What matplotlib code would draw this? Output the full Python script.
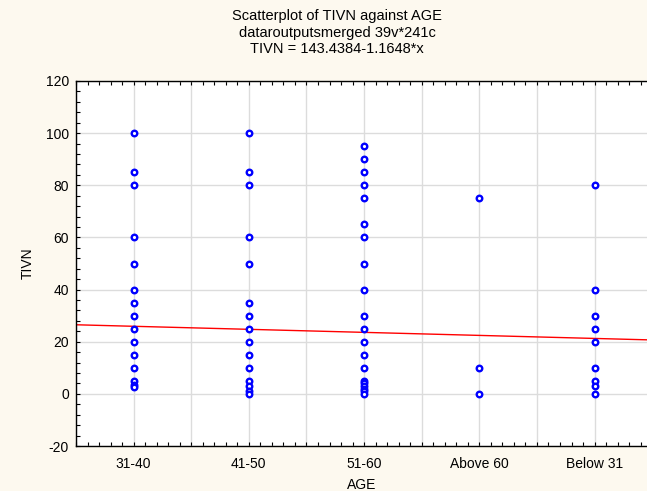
import matplotlib
matplotlib.use("Agg")
import matplotlib.pyplot as plt
from matplotlib.ticker import MultipleLocator
import numpy as np

plt.rcParams["font.family"] = ["Liberation Sans", "DejaVu Sans"]
plt.rcParams["axes.unicode_minus"] = False

categories = ["31-40", "41-50", "51-60", "Above 60", "Below 31"]

tivn_31_40 = [100, 85, 80, 60, 50, 40, 35, 30, 25, 20, 15, 10, 5, 3.5, 2.5]
tivn_41_50 = [100, 85, 80, 60, 50, 35, 30, 25, 20, 15, 10, 5, 3, 1, 0]
tivn_51_60 = [95, 90, 85, 80, 75, 65, 60, 50, 40, 30, 25, 20, 15, 10,
              5, 4, 3, 2, 1, 0]
tivn_above_60 = [75, 10, 0]
tivn_below_31 = [80, 40, 30, 25, 20, 10, 5, 3, 0]
groups = [tivn_31_40, tivn_41_50, tivn_51_60, tivn_above_60, tivn_below_31]

# fitted line in category-index units
fit_intercept = 27.08
fit_slope = -1.1648

W, H = 647, 491
fig = plt.figure(figsize=(W / 100, H / 100), dpi=100)
fig.patch.set_facecolor("#fdf9ef")
ax = fig.add_axes([76 / W, 1 - 446 / H, 1 - 76 / W, (446 - 81) / H])
ax.set_facecolor("white")

xmin, xmax = 0.5, 5.455
ax.set_xlim(xmin, xmax)
ax.set_ylim(-20, 120)

xs_line = np.array([xmin, xmax])
ax.plot(xs_line, fit_intercept + fit_slope * xs_line, color="red", lw=1, zorder=2)

for i, vals in enumerate(groups, start=1):
    ax.plot([i] * len(vals), vals, linestyle="none", marker="o", markersize=4.0,
            markerfacecolor="white", markeredgecolor="#0000ff",
            markeredgewidth=1.7, zorder=3)

ticks = np.arange(0.5, 5.5, 0.5)
ax.set_xticks(ticks)
ax.set_xticklabels([categories[int(t) - 1] if t == int(t) else "" for t in ticks])
ax.xaxis.set_minor_locator(MultipleLocator(0.1))
ax.yaxis.set_major_locator(MultipleLocator(20))
ax.yaxis.set_minor_locator(MultipleLocator(4))

ax.grid(True, which="major", color="#dcdcdc", lw=1)
ax.set_axisbelow(True)
ax.tick_params(which="both", direction="in", top=True, right=False,
               length=3, width=0.8, labelsize=10, pad=5)
ax.tick_params(axis="x", which="both", pad=8)
ax.spines["right"].set_visible(False)
for s in ("left", "bottom", "top"):
    ax.spines[s].set_linewidth(1.0)

ax.set_xlabel("AGE", fontsize=10, labelpad=5)
ax.set_ylabel("TIVN", fontsize=10, labelpad=8)

title_x = 337 / W
fig.text(title_x, 1 - 16 / H, "Scatterplot of TIVN against AGE", ha="center", va="center", fontsize=10.5)
fig.text(title_x, 1 - 32.5 / H, "dataroutputsmerged 39v*241c", ha="center", va="center", fontsize=10.5)
fig.text(title_x, 1 - 49 / H, "TIVN = 143.4384-1.1648*x", ha="center", va="center", fontsize=10.5)

fig.savefig("out.png", dpi=100, facecolor=fig.get_facecolor())
